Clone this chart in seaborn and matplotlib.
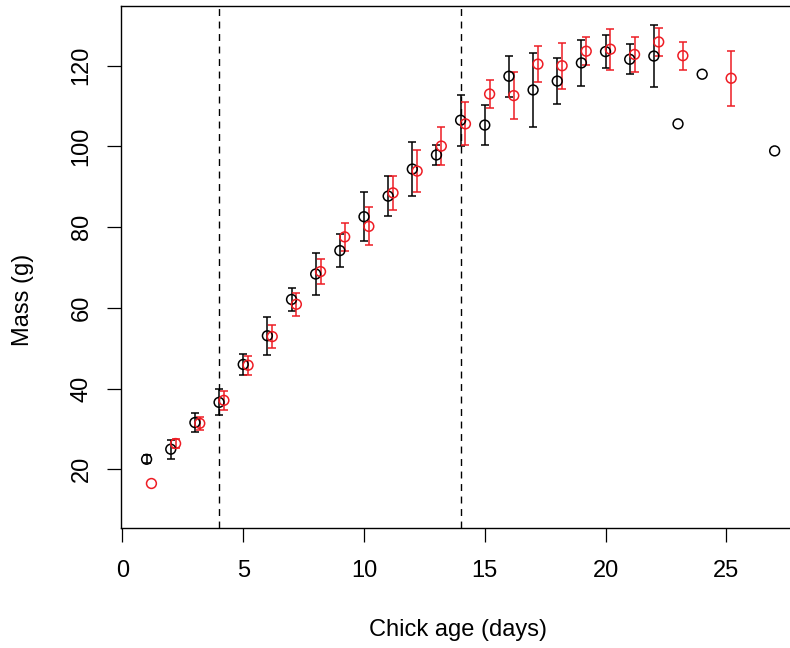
import numpy as np
import pandas as pd
import matplotlib as mpl
from matplotlib import pyplot as plt
import seaborn as sns

# black series (integer ages)
age_a = [1, 2, 3, 4, 5, 6, 7, 8, 9, 10, 11, 12, 13, 14, 15, 16, 17, 18, 19, 20, 21, 22, 23, 24, 27]
mass_a = [22.5, 25.0, 31.6, 36.6, 46.0, 53.1, 62.1, 68.4, 74.2, 82.6, 87.7, 94.4, 97.9, 106.5, 105.3,
          117.4, 114.0, 116.2, 120.7, 123.5, 121.6, 122.4, 105.6, 117.9, 98.9]
err_a = [1.0, 2.4, 2.4, 3.2, 2.5, 4.7, 2.8, 5.2, 4.1, 6.0, 4.9, 6.6, 2.5, 6.3, 4.9,
         5.1, 9.1, 5.7, 5.6, 4.0, 3.7, 7.6, 0, 0, 0]

# red series (shifted by 0.2 days)
age_b = [1.2, 2.2, 3.2, 4.2, 5.2, 6.2, 7.2, 8.2, 9.2, 10.2, 11.2, 12.2, 13.2, 14.2, 15.2,
         16.2, 17.2, 18.2, 19.2, 20.2, 21.2, 22.2, 23.2, 25.2]
mass_b = [16.5, 26.4, 31.4, 37.1, 45.8, 52.9, 60.9, 69.0, 77.6, 80.2, 88.5, 93.9, 100.1, 105.6, 113.0,
          112.6, 120.4, 120.0, 123.6, 124.1, 122.8, 125.9, 122.5, 116.9]
err_b = [0, 1.1, 1.6, 2.4, 2.4, 2.8, 2.9, 3.1, 3.5, 4.7, 4.2, 5.3, 4.6, 5.3, 3.5,
         5.8, 4.5, 5.7, 3.4, 5.1, 4.4, 3.5, 3.5, 6.8]

cutoffs = [4, 14]
xticks = [0, 5, 10, 15, 20, 25]
yticks = [20, 40, 60, 80, 100, 120]

df_a = pd.DataFrame({"age": age_a, "mass": mass_a, "se": err_a})
df_b = pd.DataFrame({"age": age_b, "mass": mass_b, "se": err_b})

sns.set_theme(style="ticks")
plt.rcParams['font.family'] = ['Liberation Sans', 'DejaVu Sans']
plt.rcParams['font.size'] = 17
plt.rcParams['text.color'] = 'black'
plt.rcParams['axes.labelcolor'] = 'black'
plt.rcParams['xtick.color'] = 'black'
plt.rcParams['ytick.color'] = 'black'

fig = plt.figure(figsize=(7.9, 6.48), dpi=100)
ax = fig.add_axes([121 / 790, 119.7 / 648, 679 / 790, 522.3 / 648])

for d, col in [(df_a, "black"), (df_b, "#ee1c24")]:
    bars = d[d.se > 0]
    ax.errorbar(bars.age, bars.mass, yerr=bars.se, fmt="none", ecolor=col,
                elinewidth=1.1, capsize=3.2, capthick=1.1, zorder=2)
    sns.scatterplot(x="age", y="mass", data=d, ax=ax, s=50, facecolors="none",
                    edgecolor=col, color=col, linewidth=1.1, zorder=3)

for c in cutoffs:
    ax.axvline(c, color="black", lw=1.0, linestyle=(0, (5, 4)), zorder=1)

ax.set_xlim(-0.06, 28.05)
ax.set_ylim(5.4, 134.8)
ax.set_xticks(xticks)
ax.set_yticks(yticks)
ax.tick_params(direction="out", length=10, width=0.9, labelsize=17)
ax.tick_params(axis="x", pad=13)
ax.tick_params(axis="y", pad=10.5, labelrotation=90)
for lab in ax.get_yticklabels():
    lab.set_va("center")
for sp in ax.spines.values():
    sp.set_linewidth(1.0)
    sp.set_color("black")

ax.set_xlabel("Chick age (days)", fontsize=17, va="center")
ax.set_ylabel("Mass (g)", fontsize=17, va="center")
ax.xaxis.set_label_coords((458 - 121) / 679, (528.3 - 630) / 522.3)
ax.yaxis.set_label_coords((23 - 121) / 679, (528.3 - 300) / 522.3)

fig.savefig("out.png", dpi=100)
